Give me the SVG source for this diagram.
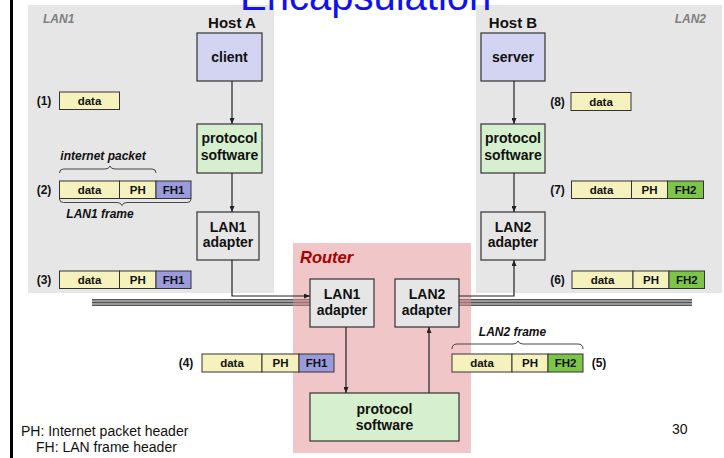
<svg xmlns="http://www.w3.org/2000/svg" width="724" height="458" viewBox="0 0 724 458">
  <defs>
    <style>
      .lan { fill: #e6e6e6; }
      .router { fill: #e38d92; fill-opacity: 0.5; }
      .box { stroke: #333; stroke-width: 1.2; }
      .app { fill: #d3d3f2; }
      .proto { fill: #d6efcf; }
      .adapter { fill: #e6e6e6; }
      .cell { stroke: #333; stroke-width: 1; }
      .data { fill: #f6f2bd; }
      .fh1 { fill: #9b9bdc; }
      .fh2 { fill: #7cc547; }
      .t { font-family: "Liberation Sans", Arial, sans-serif; font-weight: bold; fill: #111; text-anchor: middle; }
      .node { font-size: 14px; }
      .pk { font-size: 11.5px; }
      .num { font-size: 12px; }
      .host { font-size: 15px; }
      .lanlabel { font-family: "Liberation Sans", Arial, sans-serif; font-weight: bold; font-style: italic; font-size: 12px; fill: #7f7f7f; }
      .cap { font-family: "Liberation Sans", Arial, sans-serif; font-weight: bold; font-style: italic; font-size: 12px; fill: #111; text-anchor: middle; }
      .note { font-family: "Liberation Sans", Arial, sans-serif; font-size: 14px; fill: #111; }
      .wire { fill: none; stroke: #222; stroke-width: 1.2; }
      .brace { fill: none; stroke: #333; stroke-width: 0.9; }
    </style>
    <marker id="arrow" viewBox="0 0 6 5" refX="6" refY="2.5" markerWidth="6" markerHeight="5" markerUnits="userSpaceOnUse" orient="auto">
      <path d="M0,0 L6,2.5 L0,5 z" fill="#222"/>
    </marker>
  </defs>

  <rect width="724" height="458" fill="#ffffff"/>
  <!-- slide edge -->
  <rect x="10" y="0" width="3" height="458" fill="#000"/>

  <!-- network panels -->
  <rect class="lan" x="28" y="5" width="246" height="288"/>
  <rect class="lan" x="476" y="5" width="246" height="288"/>
  <text class="lanlabel" x="43" y="23">LAN1</text>
  <text class="lanlabel" x="706" y="23" text-anchor="end">LAN2</text>

  <!-- title, running off the top edge of the slide -->
  <text x="240" y="9.5" font-family="'Liberation Sans', Arial, sans-serif" font-size="40" fill="#1010f0">Encapsulation</text>

  <!-- shared bus (two segments, broken by the router) -->
  <g id="bus">
    <rect x="92" y="299" width="218" height="7" fill="#555"/>
    <rect x="459" y="299" width="233" height="7" fill="#555"/>
    <path d="M92,301 H310 M92,304 H310 M459,301 H692 M459,304 H692" stroke="#b0b0b0" stroke-width="1.3"/>
  </g>

  <!-- router area -->
  <rect class="router" x="293" y="243" width="178" height="210"/>
  <text x="300" y="263" font-family="'Liberation Sans', Arial, sans-serif" font-weight="bold" font-style="italic" font-size="16.5" fill="#a80000">Router</text>

  <text class="t host" x="232" y="28">Host A</text>
  <text class="t host" x="513" y="28">Host B</text>

  <!-- Host A -->
  <g id="client">
    <rect class="box app" x="197" y="33" width="65" height="48"/>
    <text class="t node" x="229.5" y="62">client</text>
  </g>
  <g id="protoA">
    <rect class="box proto" x="197" y="124" width="65" height="49"/>
    <text class="t node" x="229.5" y="143">protocol</text>
    <text class="t node" x="229.5" y="160">software</text>
  </g>
  <g id="adapterA">
    <rect class="box adapter" x="197" y="212" width="62" height="48"/>
    <text class="t node" x="228" y="231.5">LAN1</text>
    <text class="t node" x="228" y="247">adapter</text>
  </g>

  <!-- Host B -->
  <g id="server">
    <rect class="box app" x="481" y="33" width="64" height="48"/>
    <text class="t node" x="513" y="62">server</text>
  </g>
  <g id="protoB">
    <rect class="box proto" x="481" y="124" width="64" height="49"/>
    <text class="t node" x="513" y="143">protocol</text>
    <text class="t node" x="513" y="160">software</text>
  </g>
  <g id="adapterB">
    <rect class="box adapter" x="481" y="212" width="64" height="48"/>
    <text class="t node" x="513" y="231.5">LAN2</text>
    <text class="t node" x="513" y="247">adapter</text>
  </g>

  <!-- Router internals -->
  <g id="routerLan1">
    <rect class="box adapter" x="310" y="279" width="64" height="48"/>
    <text class="t node" x="342" y="299">LAN1</text>
    <text class="t node" x="342" y="315">adapter</text>
  </g>
  <g id="routerLan2">
    <rect class="box adapter" x="395" y="279" width="64" height="48"/>
    <text class="t node" x="427" y="299">LAN2</text>
    <text class="t node" x="427" y="315">adapter</text>
  </g>
  <g id="routerProto">
    <rect class="box proto" x="310" y="393" width="149" height="48"/>
    <text class="t node" x="384.5" y="414">protocol</text>
    <text class="t node" x="384.5" y="430">software</text>
  </g>

  <!-- connectors -->
  <g id="connectors">
    <path class="wire" d="M232,81 V124" marker-end="url(#arrow)"/>
    <path class="wire" d="M232,173 V212" marker-end="url(#arrow)"/>
    <path class="wire" d="M232,260 V296 H310" marker-end="url(#arrow)"/>
    <path class="wire" d="M346,327 V393" marker-end="url(#arrow)"/>
    <path class="wire" d="M429,393 V327" marker-end="url(#arrow)"/>
    <path class="wire" d="M459,296 H514 V260" marker-end="url(#arrow)"/>
    <path class="wire" d="M514,81 V124" marker-end="url(#arrow)"/>
    <path class="wire" d="M514,173 V212" marker-end="url(#arrow)"/>
  </g>

  <!-- (1) -->
  <g id="pkt1">
    <text class="t num" x="44" y="105">(1)</text>
    <rect class="cell data" x="59.5" y="92" width="60" height="17.5"/>
    <text class="t pk" x="89.5" y="105">data</text>
  </g>

  <!-- (2) with packet/frame braces -->
  <g id="pkt2">
    <text class="cap" x="103" y="160">internet packet</text>
    <path class="brace" d="M59.5,173 q0,-4 4,-4 H105 q4,0 5,-3 q1,3 5,3 H152 q4,0 4,4"/>
    <text class="t num" x="44" y="194">(2)</text>
    <rect class="cell data" x="59.5" y="181" width="60" height="17.5"/>
    <rect class="cell data" x="119.5" y="181" width="36.5" height="17.5"/>
    <rect class="cell fh1" x="156" y="181" width="35" height="17.5"/>
    <text class="t pk" x="89.5" y="194">data</text>
    <text class="t pk" x="137.75" y="194">PH</text>
    <text class="t pk" x="173.5" y="194">FH1</text>
    <path class="brace" d="M59.5,199 q0,3.5 4,3.5 H117 q4,0 5,3 q1,-3 5,-3 H187 q4,0 4,-3.5"/>
    <text class="cap" x="100" y="218">LAN1 frame</text>
  </g>

  <!-- (3) -->
  <g id="pkt3">
    <text class="t num" x="44" y="284">(3)</text>
    <rect class="cell data" x="59.5" y="271" width="60" height="17.5"/>
    <rect class="cell data" x="119.5" y="271" width="36.5" height="17.5"/>
    <rect class="cell fh1" x="156" y="271" width="35" height="17.5"/>
    <text class="t pk" x="89.5" y="284">data</text>
    <text class="t pk" x="137.75" y="284">PH</text>
    <text class="t pk" x="173.5" y="284">FH1</text>
  </g>

  <!-- (4) -->
  <g id="pkt4">
    <text class="t num" x="186" y="367">(4)</text>
    <rect class="cell data" x="202" y="354" width="60" height="18"/>
    <rect class="cell data" x="262" y="354" width="37" height="18"/>
    <rect class="cell fh1" x="299" y="354" width="35" height="18"/>
    <text class="t pk" x="232" y="367">data</text>
    <text class="t pk" x="280.5" y="367">PH</text>
    <text class="t pk" x="316.5" y="367">FH1</text>
  </g>

  <!-- (5) -->
  <g id="pkt5">
    <text class="cap" x="512.5" y="335.5">LAN2 frame</text>
    <path class="brace" d="M452,349 q0,-5 5,-5 H513 q4,0 5,-3 q1,3 5,3 H578 q5,0 5,5"/>
    <rect class="cell data" x="452" y="354" width="60" height="18"/>
    <rect class="cell data" x="512" y="354" width="36" height="18"/>
    <rect class="cell fh2" x="548" y="354" width="35" height="18"/>
    <text class="t pk" x="482" y="367">data</text>
    <text class="t pk" x="530" y="367">PH</text>
    <text class="t pk" x="565.5" y="367">FH2</text>
    <text class="t num" x="599" y="367">(5)</text>
  </g>

  <!-- (6) -->
  <g id="pkt6">
    <text class="t num" x="557.5" y="284">(6)</text>
    <rect class="cell data" x="572" y="271" width="61" height="17.5"/>
    <rect class="cell data" x="633" y="271" width="36" height="17.5"/>
    <rect class="cell fh2" x="669" y="271" width="35.5" height="17.5"/>
    <text class="t pk" x="602.5" y="284">data</text>
    <text class="t pk" x="651" y="284">PH</text>
    <text class="t pk" x="686.75" y="284">FH2</text>
  </g>

  <!-- (7) -->
  <g id="pkt7">
    <text class="t num" x="557.5" y="194">(7)</text>
    <rect class="cell data" x="571.5" y="181" width="60" height="17.5"/>
    <rect class="cell data" x="631.5" y="181" width="36" height="17.5"/>
    <rect class="cell fh2" x="667.5" y="181" width="36" height="17.5"/>
    <text class="t pk" x="601.5" y="194">data</text>
    <text class="t pk" x="649.5" y="194">PH</text>
    <text class="t pk" x="685.5" y="194">FH2</text>
  </g>

  <!-- (8) -->
  <g id="pkt8">
    <text class="t num" x="557.5" y="105.5">(8)</text>
    <rect class="cell data" x="571" y="92.5" width="60" height="18"/>
    <text class="t pk" x="601" y="105.5">data</text>
  </g>

  <!-- legend and page number -->
  <text class="note" x="21" y="435.5">PH: Internet packet header</text>
  <text class="note" x="36" y="452">FH: LAN frame header</text>
  <text class="note" x="672" y="433.5">30</text>
</svg>
